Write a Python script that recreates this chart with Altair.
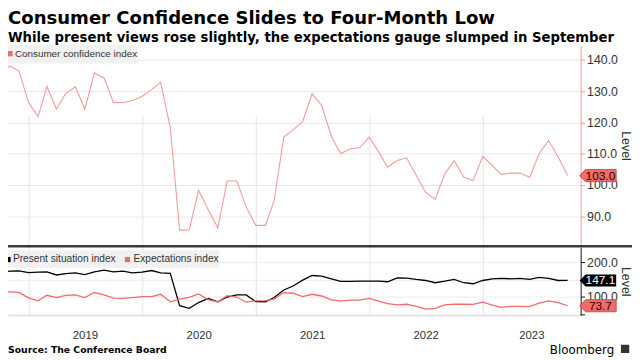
import altair as alt
import pandas as pd

# ---------------- data (monthly, Sep 2018 - Sep 2023) ----------------
first_month = "2018-09-01"
n_months = 61

confidence = [135.8, 138.1, 136.5, 126.4,
              121.8, 131.5, 124.3, 129.3, 131.4, 124.3, 135.8, 134.2, 126.4, 126.3, 127.0, 128.3,
              130.5, 132.8, 118.4, 85.5, 85.7, 98.3, 92.1, 86.3, 101.3, 101.3, 93.0, 87.1,
              87.1, 94.9, 115.3, 117.6, 120.3, 129.1, 125.4, 115.6, 110.0, 111.6, 111.9, 115.3,
              110.5, 105.7, 107.8, 108.7, 103.1, 97.7, 95.4, 103.6, 107.8, 102.5, 101.4, 109.1,
              106.2, 103.4, 103.8, 103.8, 102.5, 110.0, 114.2, 108.9, 103.0]

present = [172, 174, 175, 170,
           171, 172, 163, 167, 169, 164, 172, 177, 172, 174, 169, 171,
           176, 169, 168, 74, 66, 83, 95, 85, 99, 105, 105, 86,
           85, 97.5, 119.5, 131, 148, 161.5, 159.6, 152, 144.3, 144.3, 145.3, 145.3,
           145.3, 143.4, 154.8, 153.9, 150, 147, 140.5, 145, 150, 140.5, 137.6, 147,
           152, 153, 152, 153, 150, 156, 153, 147, 147.1]

expectations = [112, 114, 112.5, 96.5,
                88, 104, 97.5, 104, 105.5, 97.5, 112, 105, 96, 95, 97.5, 100,
                100, 107, 85, 93, 98, 108, 91, 85, 102.8, 99, 84, 88,
                88.5, 93, 112, 110, 100, 107, 102, 91, 87, 89.8, 90, 95,
                87, 80, 76.5, 78, 72, 64, 66, 76, 78.5, 78, 77.5, 84,
                75.5, 69, 72, 71.7, 71, 81, 88, 83, 73.7]

title_text = "Consumer Confidence Slides to Four-Month Low"
subtitle_text = "While present views rose slightly, the expectations gauge slumped in September"
source_text = "Source: The Conference Board"
brand_text = "Bloomberg"
legend_top = ["Consumer confidence index"]
legend_bottom = ["Present situation index", "Expectations index"]
years = [2019, 2020, 2021, 2022, 2023]
top_ticks = [90, 100, 110, 120, 130, 140]
bottom_ticks = [50, 100, 150, 200]
axis_title = "Level"

# ---------------- layout constants ----------------
W, H = 580, 273
TOP_DOMAIN = [80.75, 144.5]
TOP_RANGE = [202, 0]
BOT_DOMAIN = [45.9, 243.7]
BOT_RANGE = [273, 204]
x_start = "2018-10-26"
x_end = "2023-11-11"

RED_LINE = "#f39a9a"
RED = "#f26b6b"
FONT = "Liberation Sans"
TFONT = "DejaVu Sans"

months = pd.date_range(first_month, periods=n_months, freq="MS") + pd.offsets.MonthEnd(0)
df = pd.DataFrame({
    "date": [d.strftime("%Y-%m-%d") for d in months],
    "cc": confidence,
    "ps": present,
    "ex": expectations,
})
last = df.tail(1)

xs, xe = pd.Timestamp(x_start), pd.Timestamp(x_end)
year_mid = []
for y in years:
    a = max(pd.Timestamp(f"{y}-01-01"), xs)
    b = min(pd.Timestamp(f"{y + 1}-01-01"), xe)
    year_mid.append((a + (b - a) / 2).strftime("%Y-%m-%d"))
year_df = pd.DataFrame({"date": year_mid, "label": [str(y) for y in years]})


def dt(s):
    t = pd.Timestamp(s)
    return alt.DateTime(year=t.year, month=t.month, date=t.day, utc=True)


xscale = alt.Scale(type="utc", domain=[dt(x_start), dt(x_end)])
xaxis = alt.Axis(values=[dt(f"{y}-01-01") for y in years], labels=False, ticks=False,
                 grid=True, gridColor="#e4e4e4", gridWidth=1, domainColor="#d6d6d6",
                 title=None)
X = alt.X("date:T", scale=xscale, axis=xaxis)

top_axis = alt.Axis(orient="right", values=top_ticks, format=".1f", title=axis_title,
                    grid=True, gridColor="#e8e8e8", domainColor=RED_LINE, tickColor=RED_LINE,
                    tickSize=4, labelPadding=2, labelFont=FONT, labelFontSize=12.5,
                    labelColor="#333333", titleFont=FONT, titleFontSize=12.5,
                    titleFontWeight="normal", titleColor="#333333", titlePadding=1)
bot_axis = alt.Axis(orient="right", values=bottom_ticks, title=axis_title,
                    labelExpr="(datum.value == 100 || datum.value == 200) ? format(datum.value, '.1f') : ''",
                    grid=True, gridColor="#ececec", domainColor="#111111", tickColor="#111111",
                    tickSize=4, labelPadding=2, labelFont=FONT, labelFontSize=12.5,
                    labelColor="#333333", titleFont=FONT, titleFontSize=12.5,
                    titleFontWeight="normal", titleColor="#333333", titlePadding=1)

top_scale = alt.Scale(domain=TOP_DOMAIN, range=TOP_RANGE, nice=False, zero=False)
bot_scale = alt.Scale(domain=BOT_DOMAIN, range=BOT_RANGE, nice=False, zero=False)

tag_shape = "M-1,0L-0.68,-0.33L1,-0.33L1,0.33L-0.68,0.33Z"
TAG_X = 597.5
TAG_TX = 600

# ---------------- top panel ----------------
top_line = alt.Chart(df).mark_line(color=RED_LINE, strokeWidth=1.1, clip=True).encode(
    x=X, y=alt.Y("cc:Q", scale=top_scale, axis=top_axis))
top_tag = alt.Chart(last).mark_point(shape=tag_shape, filled=True, size=1369, fill=RED,
                                     stroke="#c23b3b", strokeWidth=0.8, opacity=1).encode(
    x=alt.value(TAG_X), y=alt.Y("cc:Q"))
top_tag_text = alt.Chart(last).mark_text(font=FONT, fontSize=12, color="#2a0000", align="center",
                                         baseline="middle").encode(
    x=alt.value(TAG_TX), y=alt.Y("cc:Q"), text=alt.Text("cc:Q", format=".1f"))
top_panel = alt.layer(top_line, top_tag, top_tag_text)

# ---------------- bottom panel ----------------
ps_line = alt.Chart(df).mark_line(color="#000000", strokeWidth=1.3, clip=True).encode(
    x=X, y=alt.Y("ps:Q", scale=bot_scale, axis=bot_axis))
ex_line = alt.Chart(df).mark_line(color=RED, strokeWidth=1.3, clip=True).encode(
    x=X, y=alt.Y("ex:Q"))
ps_tag = alt.Chart(last).mark_point(shape=tag_shape, filled=True, size=1369, fill="#000000",
                                    opacity=1).encode(x=alt.value(TAG_X), y=alt.Y("ps:Q"))
ps_tag_text = alt.Chart(last).mark_text(font=FONT, fontSize=12, color="#ffffff", align="center",
                                        baseline="middle").encode(
    x=alt.value(TAG_TX), y=alt.Y("ps:Q"), text=alt.Text("ps:Q", format=".1f"))
ex_tag = alt.Chart(last).mark_point(shape=tag_shape, filled=True, size=1369, fill=RED,
                                    stroke="#c23b3b", strokeWidth=0.8, opacity=1).encode(
    x=alt.value(TAG_X), y=alt.Y("ex:Q"))
ex_tag_text = alt.Chart(last).mark_text(font=FONT, fontSize=12, color="#2a0000", align="center",
                                        baseline="middle").encode(
    x=alt.value(TAG_TX), y=alt.Y("ex:Q"), text=alt.Text("ex:Q", format=".1f"))
bottom_panel = alt.layer(ps_line, ex_line, ps_tag, ps_tag_text, ex_tag, ex_tag_text)

# ---------------- decorations ----------------
one = pd.DataFrame({"k": [0]})

separator = alt.Chart(one).mark_rule(color="#3a3a3a", strokeWidth=2.5).encode(
    x=alt.value(0), x2=alt.value(632), y=alt.value(203))

leg_top_bg = alt.Chart(one).mark_rect(color="#efefef", opacity=0.9).encode(
    x=alt.value(0), x2=alt.value(132), y=alt.value(-1), y2=alt.value(18))
leg_top_sq = alt.Chart(one).mark_point(shape="square", filled=True, size=28, color=RED,
                                       opacity=1).encode(x=alt.value(2), y=alt.value(8))
leg_top_txt = alt.Chart(pd.DataFrame({"t": legend_top})).mark_text(
    font=FONT, fontSize=10, color="#333333", align="left", baseline="middle").encode(
    x=alt.value(7), y=alt.value(8), text="t:N")

leg_bot_bg = alt.Chart(one).mark_rect(color="#efefef", opacity=0.9).encode(
    x=alt.value(0), x2=alt.value(214), y=alt.value(207), y2=alt.value(225))
leg_bot_sq1 = alt.Chart(one).mark_point(shape="square", filled=True, size=28, color="#000000",
                                        opacity=1).encode(x=alt.value(0), y=alt.value(216.5))
leg_bot_t1 = alt.Chart(pd.DataFrame({"t": [legend_bottom[0]]})).mark_text(
    font=FONT, fontSize=10.3, color="#333333", align="left", baseline="middle").encode(
    x=alt.value(5), y=alt.value(216.5), text="t:N")
leg_bot_sq2 = alt.Chart(one).mark_point(shape="square", filled=True, size=28, color=RED,
                                        opacity=1).encode(x=alt.value(121), y=alt.value(216.5))
leg_bot_t2 = alt.Chart(pd.DataFrame({"t": [legend_bottom[1]]})).mark_text(
    font=FONT, fontSize=10.3, color="#333333", align="left", baseline="middle").encode(
    x=alt.value(127), y=alt.value(216.5), text="t:N")

year_labels = alt.Chart(year_df).mark_text(font=FONT, fontSize=11.5, color="#333333",
                                           baseline="middle").encode(
    x=X, y=alt.value(294), text="label:N")

title = alt.Chart(pd.DataFrame({"t": [title_text]})).mark_text(
    font=TFONT, fontSize=18.3, fontWeight="bold", color="#000000", align="left",
    baseline="middle").encode(x=alt.value(0), y=alt.value(-27), text="t:N")
subtitle = alt.Chart(pd.DataFrame({"t": [subtitle_text]})).mark_text(
    font=TFONT, fontSize=13.4, fontWeight="bold", color="#000000", align="left",
    baseline="middle").encode(x=alt.value(0), y=alt.value(-8), text="t:N")
source = alt.Chart(pd.DataFrame({"t": [source_text]})).mark_text(
    font=TFONT, fontSize=9.4, fontWeight="bold", color="#000000", align="left",
    baseline="middle").encode(x=alt.value(0), y=alt.value(308), text="t:N")
brand = alt.Chart(pd.DataFrame({"t": [brand_text]})).mark_text(
    font=TFONT, fontSize=12, fontWeight="normal", color="#000000", align="right",
    baseline="middle").encode(x=alt.value(614), y=alt.value(308), text="t:N")
logo = alt.Chart(one).mark_point(shape="square", filled=True, size=70, color="#333333",
                                 opacity=1).encode(x=alt.value(625), y=alt.value(307))

chart = alt.layer(
    top_panel, bottom_panel, separator,
    leg_top_bg, leg_top_sq, leg_top_txt,
    leg_bot_bg, leg_bot_sq1, leg_bot_t1, leg_bot_sq2, leg_bot_t2,
    year_labels, title, subtitle, source, brand, logo,
).resolve_scale(y="independent").resolve_axis(y="independent").properties(
    width=W, height=H,
    autosize=alt.AutoSizeParams(type="none"),
    padding={"left": 0, "top": 36, "right": 52, "bottom": 43},
    background="#ffffff",
).configure_view(strokeWidth=0)

chart.save("out.html", embed_options={"renderer": "svg", "actions": False})
